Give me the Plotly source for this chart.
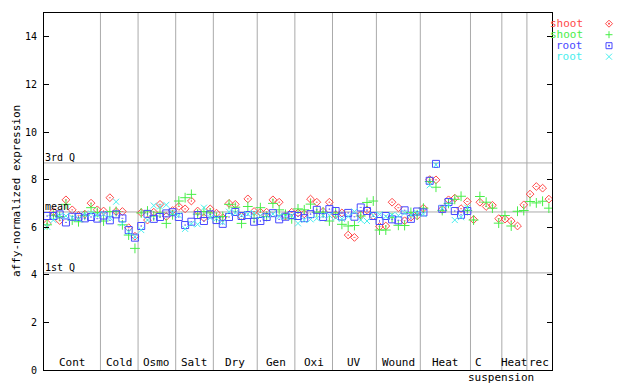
import plotly.graph_objects as go

# ---- data ----
shoot_a = [6.16, 6.65, 6.28, 7.15, 6.73, 6.50, 6.55, 7.01, 6.73,
           6.68, 7.24, 6.66, 6.66, 5.98, 5.62,
           6.61, 6.30, 6.63, 6.96, 6.45, 6.70,
           6.87, 6.77, 7.10, 6.68, 6.40, 6.77,
           6.59, 6.40, 7.00, 6.96, 6.45, 7.19, 6.66,
           6.63, 6.63, 7.15, 7.05, 6.47, 6.63,
           6.60, 6.56, 7.18, 7.05, 6.66, 7.05,
           6.52, 6.60, 5.67, 5.57, 6.52, 6.73, 6.47,
           6.03, 6.05, 7.05, 6.82, 6.27, 6.42, 6.48,
           6.80, 8.00, 7.99, 6.75, 7.15, 7.22, 6.78, 7.08,
           6.32, 7.05, 6.87, 6.92, 6.36,
           6.34, 6.26, 6.05, 6.94,
           7.39, 7.71, 7.64, 7.18]
shoot_b = [6.10, 6.50, 6.45, 6.96, 6.30, 6.23, 6.50, 6.82, 6.62,
           6.26, 6.66, 6.66, 6.10, 5.67, 5.11,
           6.60, 6.68, 6.47, 6.60, 6.16, 6.52,
           7.10, 7.24, 7.38, 6.55, 6.66, 6.60,
           6.40, 6.45, 6.96, 6.84, 6.16, 6.87, 6.37,
           6.82, 6.45, 7.00, 6.73, 6.54, 6.35,
           6.77, 6.73, 6.97, 6.63, 6.63, 6.26,
           6.60, 6.12, 6.05, 6.07, 6.47, 7.04, 7.10,
           5.88, 5.88, 6.40, 6.08, 6.07, 6.62, 6.52,
           6.80, 7.92, 7.68, 6.70, 7.00, 7.17, 7.30, 6.70,
           6.30, 7.29, 7.05, 6.80, 6.17,
           6.49, 6.05, 6.67, 6.70,
           7.08, 7.02, 7.09, 6.80]
root_a = [6.47, 6.47, 6.54, 6.20, 6.44, 6.43, 6.37, 6.43, 6.36,
          6.49, 6.29, 6.54, 6.37, 5.88, 5.56,
          6.05, 6.56, 6.35, 6.43, 6.58, 6.63,
          6.43, 6.09, 6.23, 6.51, 6.26, 6.54,
          6.30, 6.14, 6.43, 6.64, 6.47, 6.51, 6.23,
          6.26, 6.43, 6.59, 6.33, 6.44, 6.51,
          6.47, 6.38, 6.55, 6.73, 6.43, 6.76,
          6.68, 6.45, 6.60, 6.44, 6.83, 6.68, 6.47,
          6.26, 6.47, 6.33, 6.29, 6.71, 6.35, 6.66,
          6.62, 7.95, 8.66, 6.77, 7.06, 6.68, 6.52, 6.68,
          None, None, None, None, None,
          None, None, None, None,
          None, None, None, None]
root_b = [6.02, 6.30, 6.47, 6.47, 6.40, 6.35, 6.54, 6.58, 6.51,
          6.55, 6.40, 7.07, 6.16, 5.80, 5.60,
          5.88, 6.30, 6.91, 6.87, 6.94, 6.60,
          6.50, 5.93, 6.14, 6.12, 6.82, 6.40,
          6.37, 6.20, 6.65, 6.60, 6.50, 6.55, 6.59,
          6.49, 6.50, 6.55, 6.45, 6.45, 6.49,
          6.16, 6.30, 6.33, 6.37, 6.50, 6.50,
          6.40, 6.35, 6.45, 6.66, 6.30, 6.26, 6.50,
          6.54, 6.45, 6.51, 6.49, 6.60, 6.51, 6.60,
          6.55, 7.76, 8.62, 6.80, 6.94, 6.30, 6.42, 6.82,
          None, None, None, None, None,
          None, None, None, None,
          None, None, None, None]

group_labels = ["Cont", "Cold", "Osmo", "Salt", "Dry", "Gen", "Oxi", "UV",
                "Wound", "Heat", "C", "Heat", "rec"]
group_bounds = [0, 9, 15, 21, 27, 34, 40, 46, 53, 60, 68, 73, 77, 81]
sub_label = "suspension"

q1, q_mean, q3 = 4.08, 6.64, 8.70
y_ticks = [0, 2, 4, 6, 8, 10, 12, 14]

series_names = ["shoot", "shoot", "root", "root"]
series_colors = ["#ff4848", "#48ee48", "#4848ff", "#48eeee"]
series_symbols = ["diamond-open-dot", "cross-thin-open", "square-open-dot", "x-thin-open"]
series_sizes = [6, 7, 7, 6]

N = len(shoot_a)
xs = [i + 0.5 for i in range(N)]
MONO = "DejaVu Sans Mono"

# geometry: the page body adds an 8px margin, so the figure is 8px smaller
OFF = 8
W, H = 640 - OFF, 384 - OFF
ML, MR, MT, MB = 44 - OFF, 88, 13 - OFF, 14
PW, PH = W - ML - MR, H - MT - MB


def px_to_paper(px, py):
    """screen pixel -> paper coords"""
    return (px - OFF - ML) / PW, (H - MB - (py - OFF)) / PH


fig = go.Figure()
for vals, col, sym, sz in zip([shoot_a, shoot_b, root_a, root_b], series_colors,
                              series_symbols, series_sizes):
    fig.add_trace(go.Scatter(
        x=xs, y=vals, mode="markers", showlegend=False, hoverinfo="skip",
        marker=dict(symbol=sym, size=sz, color=col, line=dict(color=col, width=1))))

shapes = []
for b in group_bounds[1:-1]:
    shapes.append(dict(type="line", xref="x", yref="paper", x0=b, x1=b, y0=0, y1=1,
                       line=dict(color="#aaaaaa", width=1), layer="below"))
for q in [q1, q_mean, q3]:
    shapes.append(dict(type="line", xref="paper", yref="y", x0=0, x1=1, y0=q, y1=q,
                       line=dict(color="#aaaaaa", width=1), layer="below"))

ann = []
for k, lab in enumerate(group_labels):
    c = (group_bounds[k] + group_bounds[k + 1]) / 2
    if lab == "C":
        c -= 1.3
    ann.append(dict(x=c, y=0, xref="x", yref="y", text=lab, showarrow=False,
                    yanchor="bottom", yshift=-1, font=dict(family=MONO, size=11, color="black")))
c_sub = (group_bounds[10] + group_bounds[11]) / 2 + 2.3
ann.append(dict(x=c_sub, y=0, xref="x", yref="y", text=sub_label, showarrow=False,
                yanchor="top", yshift=1, font=dict(family=MONO, size=11, color="black")))
for q, lab in [(q3, "3rd Q"), (q_mean, "mean"), (q1, "1st Q")]:
    ann.append(dict(x=0, y=q, xref="paper", yref="y", text=lab, showarrow=False,
                    xanchor="left", yanchor="bottom", xshift=-1, yshift=-2,
                    font=dict(family=MONO, size=10, color="black")))

# y-axis title
tx, ty = px_to_paper(16, 191)
ann.append(dict(x=tx, y=ty, xref="paper", yref="paper", text="affy-normalized expression",
                textangle=-90, showarrow=False, xanchor="center", yanchor="middle",
                font=dict(family=MONO, size=11, color="black")))

# legend (text then key), at the right of the plot
leg_y = [23.7, 34.7, 45.7, 56.7]
key_paths = [
    ["M0,-3.5 L3.5,0 L0,3.5 L-3.5,0 Z", "M-0.5,-0.5 L0.5,-0.5 L0.5,0.5 L-0.5,0.5 Z"],
    ["M-3.5,0 L3.5,0 M0,-3.5 L0,3.5"],
    ["M-3,-3 L3,-3 L3,3 L-3,3 Z", "M-0.5,-0.5 L0.5,-0.5 L0.5,0.5 L-0.5,0.5 Z"],
    ["M-3,-3 L3,3 M-3,3 L3,-3"],
]
for name, col, yy, paths in zip(series_names, series_colors, leg_y, key_paths):
    lx, ly = px_to_paper(585, yy)
    ann.append(dict(x=lx, y=ly, xref="paper", yref="paper", text=name, showarrow=False,
                    xanchor="right", yanchor="middle",
                    font=dict(family=MONO, size=11, color=col)))
    kx, ky = px_to_paper(609, yy)
    for p in paths:
        shapes.append(dict(type="path", xref="paper", yref="paper",
                           xsizemode="pixel", ysizemode="pixel",
                           xanchor=kx, yanchor=ky, path=p,
                           line=dict(color=col, width=1)))

fig.update_layout(
    width=W, height=H,
    margin=dict(l=ML, r=MR, t=MT, b=MB, pad=0, autoexpand=False),
    paper_bgcolor="white", plot_bgcolor="white",
    showlegend=False,
    shapes=shapes, annotations=ann,
    xaxis=dict(range=[0, N], showgrid=False, zeroline=False, showticklabels=False,
               ticks="", showline=True, linecolor="black", linewidth=1, mirror=True,
               fixedrange=True, automargin=False),
    yaxis=dict(range=[0, 15], tickvals=y_ticks, showgrid=False, zeroline=False,
               ticks="inside", ticklen=5, tickcolor="black", showline=True,
               linecolor="black", linewidth=1, mirror="ticks", automargin=False,
               ticklabelstandoff=4,
               tickfont=dict(family=MONO, size=10, color="black")),
)

fig.write_html("out.html")
